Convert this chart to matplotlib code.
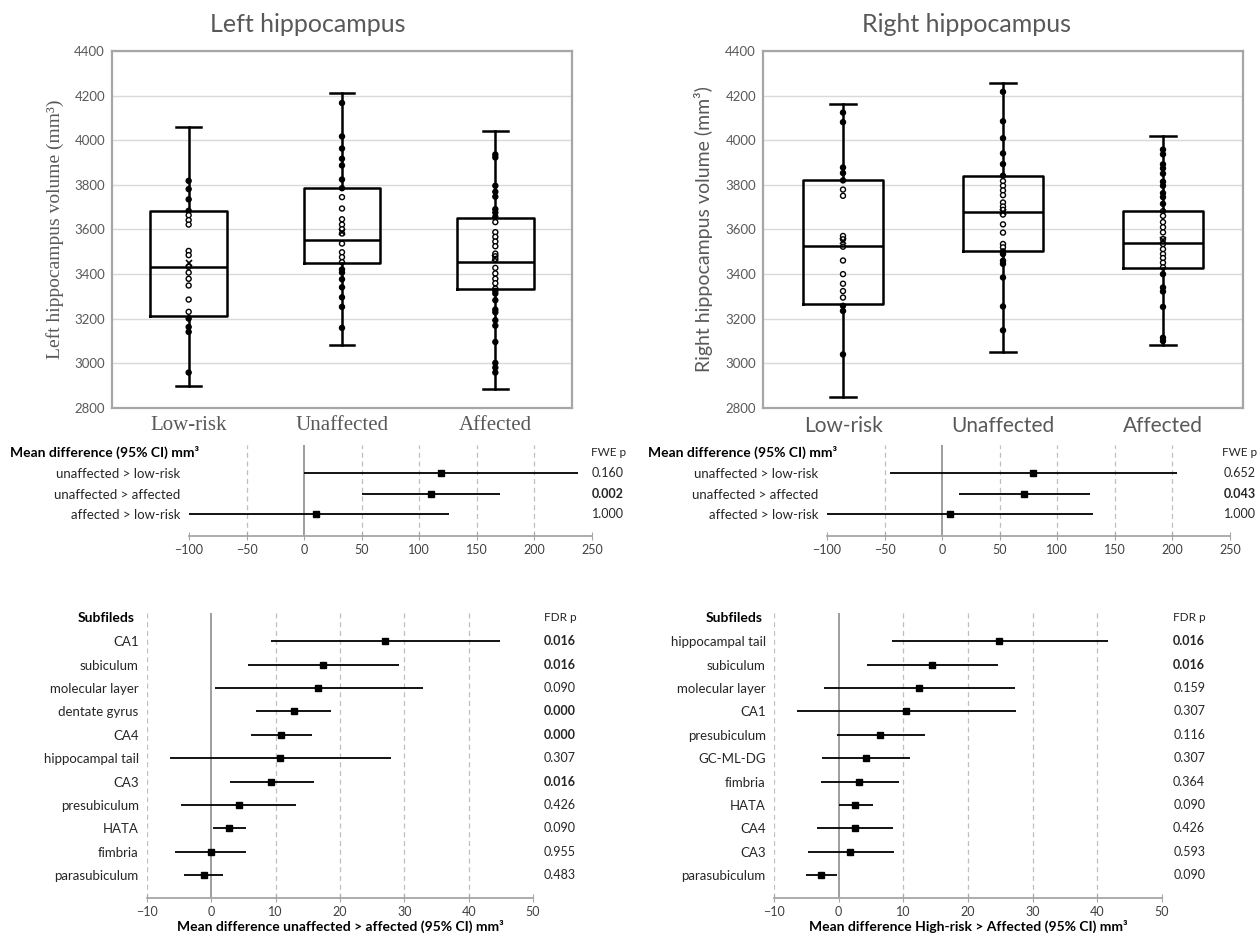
import numpy as np
import matplotlib.pyplot as plt
from matplotlib import transforms

W, H = 1260, 935
SANS = ["Lato", "DejaVu Sans"]
SERIF = ["Liberation Serif", "DejaVu Serif"]
GREY_TXT = "#595959"

plt.rcParams["font.family"] = SANS

groups = ["Low-risk", "Unaffected", "Affected"]

# --- left hippocampus volumes (mm3) ---
left_q1 = [3211, 3452, 3332]
left_med = [3431, 3554, 3456]
left_q3 = [3682, 3785, 3651]
left_lo = [2900, 3084, 2884]
left_hi = [4058, 4212, 4043]
left_mean = [3452, 3590, 3472]
left_lowrisk = [3818, 3781, 3735, 3684, 3664, 3642, 3622, 3504, 3485, 3433,
                3407, 3379, 3349, 3286, 3231, 3201, 3163, 3141, 2959]
left_unaff = [4167, 4017, 3963, 3917, 3887, 3824, 3785, 3745, 3694, 3646,
              3622, 3601, 3582, 3537, 3498, 3476, 3453, 3421, 3407, 3377,
              3341, 3296, 3253, 3159]
left_aff = [3936, 3923, 3796, 3769, 3747, 3691, 3676, 3657, 3633, 3588,
            3567, 3546, 3525, 3492, 3480, 3468, 3428, 3403, 3379, 3359,
            3335, 3325, 3313, 3283, 3241, 3229, 3193, 3169, 3096, 3002,
            2981, 2959]

# --- right hippocampus volumes (mm3) ---
right_q1 = [3265, 3502, 3427]
right_med = [3524, 3677, 3538]
right_q3 = [3820, 3841, 3685]
right_lo = [2848, 3049, 3084]
right_hi = [4162, 4258, 4018]
right_mean = [3548, 3680, 3552]
right_lowrisk = [4124, 4081, 3878, 3853, 3820, 3779, 3751, 3571, 3556, 3523,
                 3461, 3400, 3357, 3324, 3295, 3258, 3235, 3040]
right_unaff = [4217, 4085, 4009, 3941, 3893, 3841, 3817, 3796, 3775, 3754,
               3721, 3703, 3688, 3667, 3623, 3586, 3535, 3520, 3502, 3490,
               3460, 3446, 3385, 3255, 3148]
right_aff = [3958, 3937, 3892, 3874, 3850, 3814, 3796, 3763, 3745, 3715,
             3682, 3661, 3633, 3610, 3587, 3557, 3535, 3512, 3490, 3472,
             3451, 3430, 3400, 3340, 3322, 3253, 3115, 3100]

# --- group contrasts, mean difference (95% CI) ---
contrasts = ["unaffected > low-risk", "unaffected > affected", "affected > low-risk"]
left_diff = [119, 110, 10]
left_diff_lo = [0, 50, -100]
left_diff_hi = [238, 170, 126]
left_fwe = ["0.160", "0.002", "1.000"]
right_diff = [79, 71, 7]
right_diff_lo = [-45, 15, -100]
right_diff_hi = [204, 128, 131]
right_fwe = ["0.652", "0.043", "1.000"]

# --- subfields ---
left_sub = ["CA1", "subiculum", "molecular layer", "dentate gyrus", "CA4",
            "hippocampal tail", "CA3", "presubiculum", "HATA", "fimbria",
            "parasubiculum"]
left_sub_est = [27.0, 17.3, 16.6, 12.8, 10.8, 10.6, 9.3, 4.3, 2.8, -0.1, -1.2]
left_sub_lo = [9.2, 5.7, 0.6, 7.0, 6.2, -6.4, 2.9, -4.7, 0.3, -5.6, -4.2]
left_sub_hi = [44.9, 29.1, 32.9, 18.6, 15.6, 27.9, 15.9, 13.1, 5.4, 5.4, 1.8]
left_fdr = ["0.016", "0.016", "0.090", "0.000", "0.000", "0.307", "0.016",
            "0.426", "0.090", "0.955", "0.483"]

right_sub = ["hippocampal tail", "subiculum", "molecular layer", "CA1",
             "presubiculum", "GC-ML-DG", "fimbria", "HATA", "CA4", "CA3",
             "parasubiculum"]
right_sub_est = [24.8, 14.4, 12.4, 10.4, 6.4, 4.2, 3.1, 2.5, 2.5, 1.8, -2.8]
right_sub_lo = [8.2, 4.4, -2.2, -6.5, -0.3, -2.6, -2.8, 0.0, -3.3, -4.7, -5.1]
right_sub_hi = [41.6, 24.6, 27.2, 27.4, 13.3, 11.0, 9.3, 5.3, 8.4, 8.6, -0.3]
right_fdr = ["0.016", "0.016", "0.159", "0.307", "0.116", "0.307", "0.364",
             "0.090", "0.426", "0.593", "0.090"]


fig = plt.figure(figsize=(W / 100, H / 100), dpi=100)


def px_axes(x0, y0, x1, y1):
    return fig.add_axes([x0 / W, 1 - y1 / H, (x1 - x0) / W, (y1 - y0) / H])


def box_panel(ax, q1, med, q3, lo, hi, mean, pts, ylabel, cat_font):
    stats = []
    for i in range(3):
        stats.append(dict(q1=q1[i], med=med[i], q3=q3[i], whislo=lo[i],
                          whishi=hi[i], mean=mean[i], fliers=[]))
    line = dict(color="black", linewidth=1.8)
    for i, p in enumerate(pts):
        p = np.asarray(p)
        # points on the whisker look solid, points inside the box stay hollow
        inside = (p > q1[i]) & (p < q3[i])
        face = np.where(inside, "white", "black")
        ax.scatter(np.full(len(p), i + 1), p, s=13, facecolor=face,
                   edgecolor="black", linewidth=1.0, zorder=2)
    ax.bxp(stats, positions=[1, 2, 3], widths=0.5, capwidths=0.16,
           showmeans=True, showfliers=False,
           boxprops=line, whiskerprops=line, capprops=line,
           medianprops=line,
           meanprops=dict(marker="x", markeredgecolor="black", markersize=5,
                          markeredgewidth=1.2),
           manage_ticks=False, zorder=3)
    ax.set_xlim(0.5, 3.5)
    ax.set_ylim(2800, 4400)
    ax.set_yticks(np.arange(2800, 4401, 200))
    ax.set_xticks([1, 2, 3])
    ax.set_xticklabels(groups, family=cat_font, fontsize=15, color=GREY_TXT)
    ax.tick_params(axis="y", length=0, pad=5, labelsize=9.5, labelcolor=GREY_TXT)
    ax.tick_params(axis="x", length=0, pad=6)
    ax.grid(axis="y", color="#D9D9D9", linewidth=1)
    ax.set_axisbelow(True)
    for s in ax.spines.values():
        s.set_color("#A6A6A6")
        s.set_linewidth(1.6)
    ax.set_ylabel(ylabel, family=cat_font, fontsize=14, color=GREY_TXT)


def forest(ax, labels, est, lo, hi, pvals, sig, xlim, xticks, ylim,
           header, header_x, ptitle, header_align, p_x):
    rows = np.arange(len(labels))
    for t in xticks:
        if t == 0:
            ax.axvline(0, color="#8C8C8C", linewidth=1.2, zorder=1)
        elif t != xticks[-1] and not (t == xticks[0] and xticks[0] == -100):
            ax.axvline(t, color="#BFBFBF", linewidth=0.9, linestyle=(0, (4, 3)),
                       zorder=1)
    ax.hlines(rows, lo, hi, color="black", linewidth=1.3, zorder=2)
    ax.plot(est, rows, "s", color="black", markersize=4.5, zorder=3)
    ax.set_xlim(*xlim)
    ax.set_xticks(xticks)
    ax.set_ylim(*ylim)
    ax.set_yticks(rows)
    ax.set_yticklabels(labels, fontsize=9.5, color="#262626")
    ax.tick_params(axis="y", length=0, pad=6)
    ax.tick_params(axis="x", direction="inout", length=6, color="#A6A6A6",
                   labelsize=9, labelcolor="#404040", pad=3)
    for k in ["left", "right", "top"]:
        ax.spines[k].set_visible(False)
    ax.spines["bottom"].set_color("#A6A6A6")
    ax.spines["bottom"].set_linewidth(1.3)
    tr_fig = transforms.blended_transform_factory(fig.transFigure, ax.transData)
    ax.text(header_x / W, -1, header, transform=tr_fig, ha=header_align,
            va="center", fontsize=10, fontweight="bold", color="black")
    tr_ax = transforms.blended_transform_factory(ax.transAxes, ax.transData)
    ax.text(p_x, -1, ptitle, transform=tr_ax, ha="center", va="center",
            fontsize=8.5, color="#262626")
    for r, p, b in zip(rows, pvals, sig):
        ax.text(p_x, r, p, transform=tr_ax, ha="center", va="center",
                fontsize=9, color="#262626",
                fontweight="bold" if b else "normal")


# --- box plots ---
ax1 = px_axes(112, 51, 572, 408)
box_panel(ax1, left_q1, left_med, left_q3, left_lo, left_hi, left_mean,
          [left_lowrisk, left_unaff, left_aff],
          "Left hippocampus volume (mm³)", SERIF)
ax1.yaxis.set_label_coords(-0.105, 0.5)
fig.text(308 / W, 1 - 24 / H, "Left hippocampus", ha="center", va="center",
         fontsize=18, color=GREY_TXT)

ax2 = px_axes(763, 51, 1243, 408)
box_panel(ax2, right_q1, right_med, right_q3, right_lo, right_hi, right_mean,
          [right_lowrisk, right_unaff, right_aff],
          "Right hippocampus volume (mm³)", SANS)
ax2.yaxis.set_label_coords(-0.105, 0.5)
fig.text(966 / W, 1 - 24 / H, "Right hippocampus", ha="center", va="center",
         fontsize=18, color=GREY_TXT)

# --- contrasts ---
mid_ylim = (3.07, -1.37)
mid_ticks = list(range(-100, 251, 50))
ax3 = px_axes(189, 445, 592, 536)
forest(ax3, contrasts, left_diff, left_diff_lo, left_diff_hi, left_fwe,
       [p == "0.002" for p in left_fwe], (-100, 250), mid_ticks, mid_ylim,
       "Mean difference (95% CI) mm³", 10, "FWE p", "left", 1.04)
ax4 = px_axes(827, 445, 1230, 536)
forest(ax4, contrasts, right_diff, right_diff_lo, right_diff_hi, right_fwe,
       [p == "0.043" for p in right_fwe], (-100, 250), mid_ticks, mid_ylim,
       "Mean difference (95% CI) mm³", 648, "FWE p", "left", 1.024)

# --- subfields ---
sub_ylim = (10.98, -1.21)
sub_ticks = list(range(-10, 51, 10))
left_sig = [float(p) < 0.05 for p in left_fdr]
right_sig = [float(p) < 0.05 for p in right_fdr]
ax5 = px_axes(147, 613, 533, 898)
forest(ax5, left_sub, left_sub_est, left_sub_lo, left_sub_hi, left_fdr,
       left_sig, (-10, 50), sub_ticks, sub_ylim,
       "Subfileds", 135, "FDR p", "right", 1.07)
ax5.set_xlabel("Mean difference unaffected > affected (95% CI) mm³",
               fontsize=10, fontweight="bold", labelpad=1)

ax6 = px_axes(774, 613, 1162, 898)
forest(ax6, right_sub, right_sub_est, right_sub_lo, right_sub_hi, right_fdr,
       right_sig, (-10, 50), sub_ticks, sub_ylim,
       "Subfileds", 763, "FDR p", "right", 1.07)
ax6.set_xlabel("Mean difference High-risk > Affected (95% CI) mm³",
               fontsize=10, fontweight="bold", labelpad=1)

fig.savefig("out.png", dpi=100)
